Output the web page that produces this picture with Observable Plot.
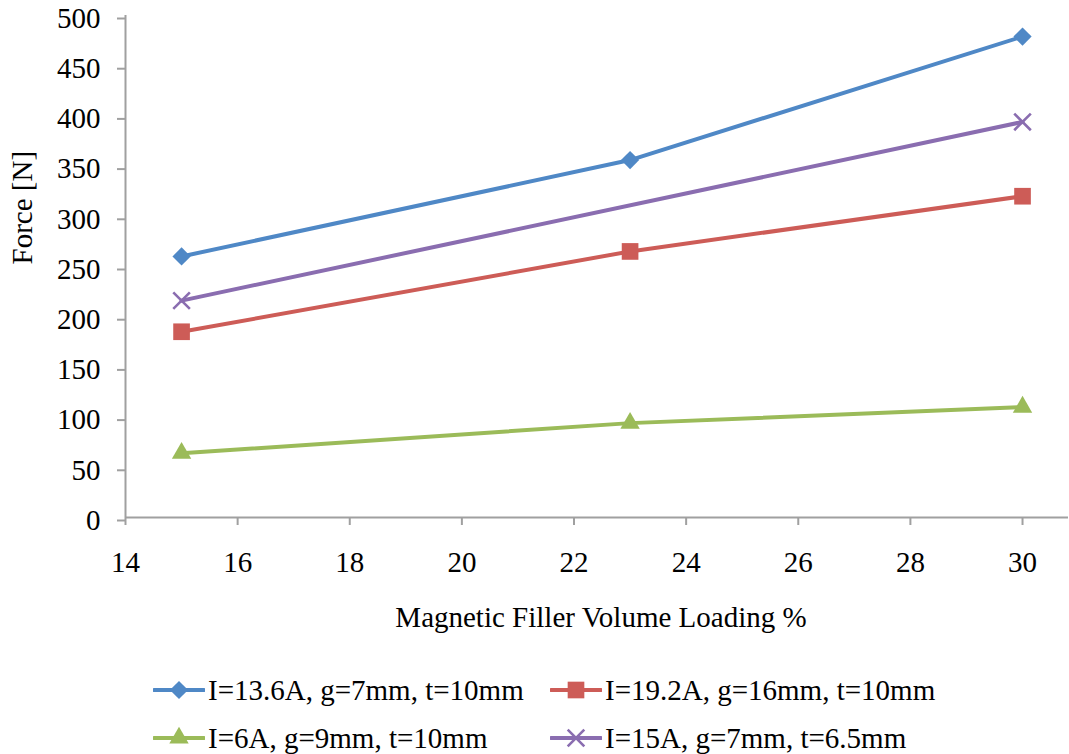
<!DOCTYPE html>
<html>
<head>
<meta charset="utf-8">
<script src="https://cdn.jsdelivr.net/npm/d3@7"></script>
<script src="https://cdn.jsdelivr.net/npm/@observablehq/plot@0.6"></script>
<style>
  html, body { margin: 0; padding: 0; background: #fff; overflow: hidden; }
  body { width: 1069px; height: 754px; font-family: 'Liberation Serif', 'Times New Roman', serif; }
  svg text { font-family: 'Liberation Serif', 'Times New Roman', serif; }
  #legend { display: grid; grid-template-columns: 397px auto; grid-auto-rows: 48px; padding-left: 153px; padding-top: 26px; font-size: 29px; color: #000; font-family: 'Liberation Serif', 'Times New Roman', serif; }
  .item { display: flex; align-items: center; white-space: nowrap; }
  .item svg { margin-right: 3px; flex: none; }
</style>
</head>
<body>
<div id="chart"></div>
<div id="legend"></div>
<script>
// ---- data ----
const seriesNames = [
  "I=13.6A, g=7mm, t=10mm",
  "I=19.2A, g=16mm, t=10mm",
  "I=6A, g=9mm, t=10mm",
  "I=15A, g=7mm, t=6.5mm"
];
const seriesColors = ["#4F88C6", "#CD5C57", "#9BBB59", "#8A6DB0"];
const seriesSymbols = ["diamond2", "square", "triangle", "times"];
const xBlue = [15, 23, 30];
const yBlue = [260, 356, 479];
const xRed = [15, 23, 30];
const yRed = [185, 265, 320];
const xGreen = [15, 23, 30];
const yGreen = [64, 94, 110];
const xPurple = [15, 30];
const yPurple = [216, 394];
const xTicks = [14, 16, 18, 20, 22, 24, 26, 28, 30];
const yTicks = [0, 50, 100, 150, 200, 250, 300, 350, 400, 450, 500];
const xTitle = "Magnetic Filler Volume Loading %";
const yTitle = "Force [N]";

const seriesX = [xBlue, xRed, xGreen, xPurple];
const seriesY = [yBlue, yRed, yGreen, yPurple];
const data = [];
seriesNames.forEach((s, i) => seriesX[i].forEach((x, j) => data.push({series: s, x, y: seriesY[i][j]})));

const symbolR = {diamond2: 8.2, square: 9.4, triangle: 7.2, times: 7.6};
const gray = "#A0A0A0";
const font = "'Liberation Serif', 'Times New Roman', serif";

const dotMarks = seriesNames.map((s, i) => {
  const sym = seriesSymbols[i];
  const filled = sym !== "times";
  return Plot.dot(data.filter(d => d.series === s), {
    x: "x", y: "y", symbol: () => sym, r: symbolR[sym],
    fill: filled ? seriesColors[i] : "none",
    stroke: filled ? "none" : seriesColors[i],
    strokeWidth: filled ? 0 : 2.6
  });
});

const chart = Plot.plot({
  width: 1069,
  height: 640,
  marginLeft: 125,
  marginRight: 1,
  marginTop: 15,
  marginBottom: 123,
  style: {fontFamily: font, fontSize: "29px", color: "#000", background: "#fff"},
  x: {domain: [14, 30.82], ticks: xTicks},
  y: {domain: [0, 500], ticks: yTicks},
  symbol: {domain: seriesSymbols, range: seriesSymbols},
  marks: [
    Plot.ruleX([14], {stroke: gray, strokeWidth: 2}),
    Plot.ruleY([0], {stroke: gray, strokeWidth: 2}),
    Plot.axisX({ticks: xTicks, tickSize: 8, tickPadding: 26, stroke: gray, strokeWidth: 2, fill: "#000", fontSize: 29, label: null}),
    Plot.axisY({ticks: yTicks, tickSize: 8, tickPadding: 17, dy: 3, stroke: gray, strokeWidth: 2, fill: "#000", fontSize: 29, label: null}),
    Plot.line(data, {x: "x", y: "y", z: "series", stroke: d => seriesColors[seriesNames.indexOf(d.series)], strokeWidth: 4, strokeLinejoin: "round"}),
    ...dotMarks,
    Plot.text([xTitle], {frameAnchor: "bottom", dy: 100, dx: 4, lineAnchor: "middle", fontSize: 29, fill: "#000"}),
    Plot.text([yTitle], {frameAnchor: "left", dx: -103, dy: -2, rotate: -90, lineAnchor: "middle", fontSize: 29, fill: "#000"})
  ]
});
document.getElementById("chart").appendChild(chart);

// ---- legend ----
const symMap = {diamond2: d3.symbolDiamond2, square: d3.symbolSquare, triangle: d3.symbolTriangle, times: d3.symbolTimes};
const legend = d3.select("#legend");
seriesNames.forEach((s, i) => {
  const item = legend.append("div").attr("class", "item");
  const svg = item.append("svg").attr("width", 52).attr("height", 24);
  svg.append("line").attr("x1", 1).attr("x2", 51).attr("y1", 12).attr("y2", 12)
    .attr("stroke", seriesColors[i]).attr("stroke-width", 4).attr("stroke-linecap", "round");
  const sym = seriesSymbols[i];
  const r = symbolR[sym];
  const filled = sym !== "times";
  svg.append("path").attr("transform", "translate(26,12)")
    .attr("d", d3.symbol(symMap[sym], r * r * Math.PI)())
    .attr("fill", filled ? seriesColors[i] : "none")
    .attr("stroke", filled ? "none" : seriesColors[i])
    .attr("stroke-width", filled ? 0 : 2.6);
  item.append("span").text(s);
});
</script>
</body>
</html>
